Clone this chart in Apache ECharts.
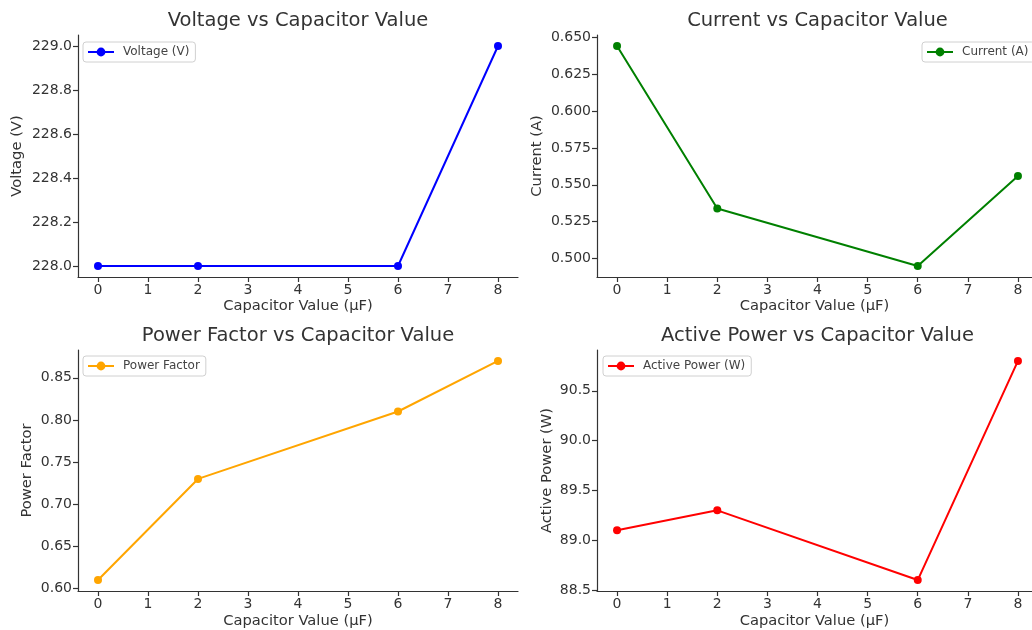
<!DOCTYPE html>
<html>
<head>
<meta charset="utf-8">
<script src="https://cdn.jsdelivr.net/npm/echarts@6/dist/echarts.min.js"></script>
<style>
html,body{margin:0;padding:0;background:#fff;}
#chart{width:1032px;height:630px;}
</style>
</head>
<body>
<div id="chart"></div>
<script>
const capacitance = [0, 2, 6, 8];
const voltage = [228.0, 228.0, 228.0, 229.0];
const current = [0.644, 0.534, 0.495, 0.556];
const powerFactor = [0.61, 0.73, 0.81, 0.87];
const activePower = [89.1, 89.3, 88.6, 90.8];

const xTicks = [0, 1, 2, 3, 4, 5, 6, 7, 8];
const voltageTicks = [228.0, 228.2, 228.4, 228.6, 228.8, 229.0];
const currentTicks = [0.500, 0.525, 0.550, 0.575, 0.600, 0.625, 0.650];
const pfTicks = [0.60, 0.65, 0.70, 0.75, 0.80, 0.85];
const powerTicks = [88.5, 89.0, 89.5, 90.0, 90.5];

const titles = ['Voltage vs Capacitor Value', 'Current vs Capacitor Value', 'Power Factor vs Capacitor Value', 'Active Power vs Capacitor Value'];
const seriesNames = ['Voltage (V)', 'Current (A)', 'Power Factor', 'Active Power (W)'];
const yNames = ['Voltage (V)', 'Current (A)', 'Power Factor', 'Active Power (W)'];
const xName = 'Capacitor Value (\u00B5F)';

const FONT = 'DejaVu Sans';
const TXT = '#333333';

// right-hand panels are cut off by the figure edge: the visible axis ends a bit before xmax
const panels = [
  {vals: voltage, ticks: voltageTicks, dec: 1, color: '#0000ff', left: 78, top: 35, width: 440, height: 242, clip: 0, titleW: 440, nameGap: 53, xGap: 22, legendLeft: 83, legendTop: 42},
  {vals: current, ticks: currentTicks, dec: 3, color: '#008000', left: 597, top: 35, width: 435, height: 242, clip: 0.12, titleW: 441, nameGap: 52, xGap: 22, legendLeft: 922, legendTop: 42},
  {vals: powerFactor, ticks: pfTicks, dec: 2, color: '#ffa500', left: 78, top: 350, width: 440, height: 241, clip: 0, titleW: 440, nameGap: 43, xGap: 23, legendLeft: 83, legendTop: 356},
  {vals: activePower, ticks: powerTicks, dec: 1, color: '#ff0000', left: 597, top: 350, width: 435, height: 241, clip: 0.12, titleW: 441, nameGap: 42, xGap: 23, legendLeft: 603, legendTop: 356}
];

function limits(arr) {
  const mn = Math.min(...arr), mx = Math.max(...arr);
  const m = (mx - mn) * 0.05;
  return [mn - m, mx + m];
}
const xLim = limits(capacitance);

const option = {
  animation: false,
  backgroundColor: '#fff',
  title: [], grid: [], xAxis: [], yAxis: [], series: [], legend: []
};

panels.forEach((p, i) => {
  const yl = limits(p.vals);
  option.grid.push({left: p.left, top: p.top, width: p.width, height: p.height});
  option.title.push({
    text: titles[i],
    left: p.left + p.titleW / 2,
    top: p.top - 25,
    textAlign: 'center',
    padding: 0,
    textStyle: {fontFamily: FONT, fontSize: 19.5, fontWeight: 'normal', color: TXT, lineHeight: 22}
  });
  option.xAxis.push({
    type: 'value', gridIndex: i, min: xLim[0], max: xLim[1] - p.clip,
    name: xName, nameLocation: 'middle', nameGap: p.xGap,
    nameTextStyle: {fontFamily: FONT, fontSize: 14.7, color: TXT},
    axisLine: {show: true, onZero: false, lineStyle: {color: TXT, width: 1.2}},
    axisTick: {show: true, length: 5, inside: false, customValues: xTicks, lineStyle: {color: TXT, width: 1.2}},
    axisLabel: {show: true, customValues: xTicks, margin: 6, fontFamily: FONT, fontSize: 14, color: TXT, formatter: v => String(Math.round(v))},
    splitLine: {show: false}
  });
  option.yAxis.push({
    type: 'value', gridIndex: i, min: yl[0], max: yl[1],
    name: yNames[i], nameLocation: 'middle', nameGap: p.nameGap,
    nameTextStyle: {fontFamily: FONT, fontSize: 14.7, color: TXT},
    axisLine: {show: true, onZero: false, lineStyle: {color: TXT, width: 1.2}},
    axisTick: {show: true, length: 5, inside: false, customValues: p.ticks, lineStyle: {color: TXT, width: 1.2}},
    axisLabel: {show: true, customValues: p.ticks, margin: 6, fontFamily: FONT, fontSize: 14, color: TXT, formatter: v => Number(v).toFixed(p.dec)},
    splitLine: {show: false}
  });
  option.series.push({
    type: 'line', name: seriesNames[i], xAxisIndex: i, yAxisIndex: i,
    data: capacitance.map((x, k) => [x, p.vals[k]]),
    symbol: 'circle', symbolSize: 8, showSymbol: true,
    lineStyle: {color: p.color, width: 2},
    itemStyle: {color: p.color},
    emphasis: {disabled: true}
  });
  option.legend.push({
    data: [seriesNames[i]],
    left: p.legendLeft, top: p.legendTop,
    padding: [4, 6, 4, 4],
    itemWidth: 26, itemHeight: 11,
    borderColor: '#d0d0d0', borderWidth: 1, borderRadius: 3,
    backgroundColor: 'rgba(255,255,255,0.8)',
    selectedMode: false,
    textStyle: {fontFamily: FONT, fontSize: 12, color: '#444444', padding: [0, 0, 0, 4]}
  });
});

const chart = echarts.init(document.getElementById('chart'), null, {renderer: 'canvas'});
chart.setOption(option);
</script>
</body>
</html>
